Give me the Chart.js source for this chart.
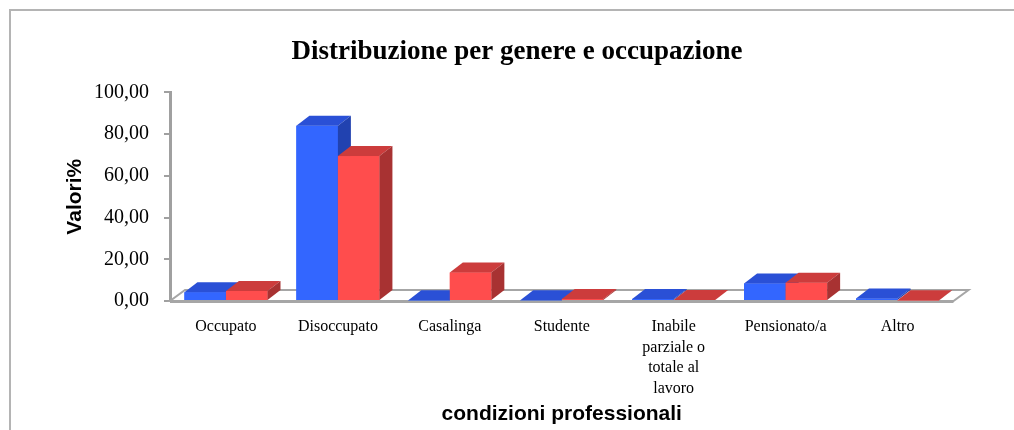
<!DOCTYPE html>
<html>
<head>
<meta charset="utf-8">
<script src="https://cdn.jsdelivr.net/npm/chart.js@4/dist/chart.umd.min.js"></script>
<style>
    body { margin: 0; background: #ffffff; }
    canvas { display: block; }
</style>
</head>
<body>
<canvas id="myChart" width="1014" height="430"></canvas>
<script>
var categories = ['Occupato', 'Disoccupato', 'Casalinga', 'Studente',
    ['Inabile', 'parziale o', 'totale al', 'lavoro'], 'Pensionato/a', 'Altro'];
var maschi = [4.2, 84.0, 0.3, 0.4, 1.0, 8.4, 1.2];
var femmine = [4.8, 69.5, 13.7, 1.0, 0.5, 8.8, 0.3];
var y_ticks = [0, 20, 40, 60, 80, 100];

var serif = "'Liberation Serif', 'DejaVu Serif', serif";
var sans = "'Liberation Sans', Arial, sans-serif";

// front, top, side colours for each series
var faces = [
    ['#3366ff', '#2a50d6', '#2142b0'],
    ['#ff4d4d', '#cc3c3c', '#a83232']
];
var depth_x = 13;
var depth_y = 10;

function fmt(v) {
    return v.toFixed(2).replace('.', ',');
}

var framePlugin = {
    id: 'frame',
    beforeDraw: function (chart) {
        var ctx = chart.ctx;
        ctx.save();
        ctx.fillStyle = '#ffffff';
        ctx.fillRect(0, 0, chart.width, chart.height);
        ctx.strokeStyle = '#b4b4b4';
        ctx.lineWidth = 2;
        ctx.beginPath();
        ctx.moveTo(10, chart.height + 2);
        ctx.lineTo(10, 10);
        ctx.lineTo(chart.width + 2, 10);
        ctx.stroke();
        ctx.restore();
    },
    beforeDatasetsDraw: function (chart) {
        // floor of the 3d plot
        var ctx = chart.ctx;
        var a = chart.chartArea;
        var y0 = chart.scales.y.getPixelForValue(0);
        ctx.save();
        ctx.fillStyle = '#ffffff';
        ctx.strokeStyle = '#a6a6a6';
        ctx.lineWidth = 2;
        ctx.beginPath();
        ctx.moveTo(a.left, y0);
        ctx.lineTo(a.right, y0);
        ctx.lineTo(a.right + 15, y0 - 11);
        ctx.lineTo(a.left + 15, y0 - 11);
        ctx.closePath();
        ctx.fill();
        ctx.stroke();
        ctx.lineWidth = 3;
        ctx.beginPath();
        ctx.moveTo(a.left, y0 + 0.5);
        ctx.lineTo(a.right, y0 + 0.5);
        ctx.stroke();
        ctx.restore();
    },
    afterDatasetsDraw: function (chart) {
        var ctx = chart.ctx;
        ctx.save();
        for (var i = 0; i < categories.length; i++) {
            for (var d = 0; d < chart.data.datasets.length; d++) {
                var bar = chart.getDatasetMeta(d).data[i];
                var p = bar.getProps(['x', 'y', 'base', 'width'], true);
                var l = p.x - p.width / 2;
                var r = p.x + p.width / 2;
                var c = faces[d];
                ctx.fillStyle = c[0];
                ctx.fillRect(l, p.y, p.width, p.base - p.y);
                ctx.fillStyle = c[1];
                ctx.beginPath();
                ctx.moveTo(l, p.y);
                ctx.lineTo(r, p.y);
                ctx.lineTo(r + depth_x, p.y - depth_y);
                ctx.lineTo(l + depth_x, p.y - depth_y);
                ctx.closePath();
                ctx.fill();
                ctx.fillStyle = c[2];
                ctx.beginPath();
                ctx.moveTo(r, p.y);
                ctx.lineTo(r + depth_x, p.y - depth_y);
                ctx.lineTo(r + depth_x, p.base - depth_y);
                ctx.lineTo(r, p.base);
                ctx.closePath();
                ctx.fill();
            }
        }
        ctx.restore();
    }
};

var ctx = document.getElementById('myChart').getContext('2d');
var chartConfig = {
    type: 'bar',
    data: {
        labels: categories,
        datasets: [
            { label: 'Maschi', data: maschi, backgroundColor: faces[0][0] },
            { label: 'Femmine', data: femmine, backgroundColor: faces[1][0] }
        ]
    },
    options: {
        responsive: false,
        animation: false,
        categoryPercentage: 0.742,
        barPercentage: 1.0,
        layout: {
            padding: { left: 80.5, right: 60.5, top: 0, bottom: 0 }
        },
        scales: {
            x: {
                afterFit: function (scale) { scale.height = 129; },
                grid: { display: false },
                border: { display: false },
                ticks: {
                    padding: 8,
                    color: '#000000',
                    autoSkip: false,
                    maxRotation: 0,
                    font: { family: serif, size: 16, lineHeight: 1.28 }
                },
                title: {
                    display: true,
                    text: 'condizioni professionali',
                    color: '#000000',
                    padding: { top: 0, bottom: 3 },
                    font: { family: sans, size: 21, weight: 'bold' }
                }
            },
            y: {
                min: 0,
                max: 100,
                afterFit: function (scale) { scale.width = 89.5; },
                afterBuildTicks: function (scale) {
                    scale.ticks = y_ticks.map(function (v) { return { value: v }; });
                },
                grid: {
                    drawOnChartArea: false,
                    drawTicks: true,
                    tickLength: 6,
                    color: '#a0a0a0',
                    lineWidth: 2
                },
                border: { display: true, color: '#a0a0a0', width: 3 },
                ticks: {
                    padding: 15,
                    color: '#000000',
                    font: { family: serif, size: 20 },
                    callback: function (v) { return fmt(v); }
                },
                title: {
                    display: true,
                    text: 'Valori%',
                    color: '#000000',
                    padding: { top: -17.5, bottom: 0 },
                    font: { family: sans, size: 21, weight: 'bold' }
                }
            }
        },
        plugins: {
            legend: { display: false },
            tooltip: { enabled: false },
            title: {
                display: true,
                text: 'Distribuzione per genere e occupazione',
                color: '#000000',
                padding: { top: 36, bottom: 24 },
                font: { family: serif, size: 27, weight: 'bold' }
            }
        }
    },
    plugins: [framePlugin]
};

var myChart = new Chart(ctx, chartConfig);
</script>
</body>
</html>
